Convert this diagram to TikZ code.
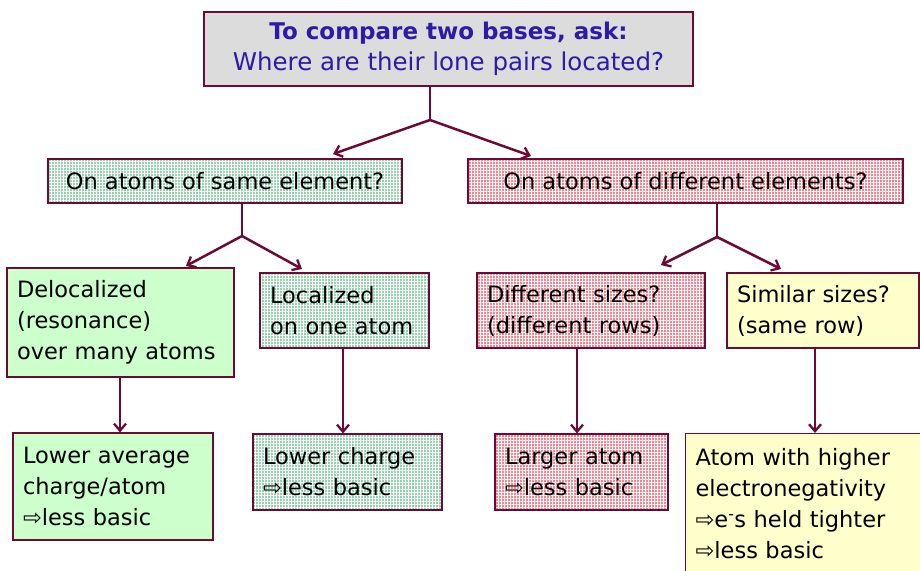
\documentclass[tikz,border=0pt]{standalone}
\usepackage{fontspec}
\setmainfont{DejaVu Sans}
\usetikzlibrary{arrows.meta,patterns.meta}
\definecolor{maroon}{HTML}{6C0A36}
\definecolor{qblue}{HTML}{2B1BA5}
\definecolor{boxgray}{HTML}{DCDCDC}
\definecolor{mint}{HTML}{CCFFCC}
\definecolor{cream}{HTML}{FFFFCC}
\definecolor{hgreenbg}{HTML}{96D2AE}
\definecolor{hpinkbg}{HTML}{F6848F}
\tikzset{
  every node/.style={font=\fontsize{22.5}{31}\selectfont},
  basebox/.style={draw=maroon, line width=1.2pt, inner xsep=12pt, inner ysep=0pt, align=left},
  graybox/.style={basebox, fill=boxgray, text=qblue, align=center},
  plaingreen/.style={basebox, fill=mint},
  plaincream/.style={basebox, fill=cream},
  gridover/.style={
     postaction={pattern={Lines[distance=3pt,line width=1pt,angle=0]},pattern color=white},
     postaction={pattern={Lines[distance=3pt,line width=1pt,angle=90]},pattern color=white},
     postaction={draw=maroon,line width=1.2pt}},
  hatchgreen/.style={basebox, fill=hgreenbg, gridover},
  hatchpink/.style={basebox, fill=hpinkbg, gridover},
  conn/.style={draw=maroon, line width=2.5pt},
  arr/.style={conn, -{Straight Barb[length=7pt,width=12pt,line width=2.3pt]}}
}
\begin{document}
\begin{tikzpicture}[x=1pt,y=-1pt]
\useasboundingbox[fill=white] (0,0) rectangle (920,570);

% top box
\node[graybox, minimum width=489pt, minimum height=74pt] (top) at (448.5,49)
  {\fontsize{23}{32}\selectfont\textbf{To compare two bases, ask:}\\\fontsize{24.5}{32}\selectfont Where are their lone pairs located?};

% second row
\node[hatchgreen, minimum width=354pt, minimum height=44pt, align=center] (same) at (225,181)
  {On atoms of same element?};
\node[hatchpink, minimum width=435pt, minimum height=44pt, align=center] (diff) at (685.5,181)
  {On atoms of different elements?};

% third row
\node[plaingreen, minimum width=227pt, minimum height=109pt, text width=207pt, inner xsep=10pt] (deloc) at (120.5,322.5)
  {Delocalized\\(resonance)\\over many atoms};
\node[hatchgreen, minimum width=169pt, minimum height=75pt, text width=149pt, inner xsep=10pt] (loc) at (344.5,310.5)
  {Localized\\on one atom};
\node[hatchpink, minimum width=228pt, minimum height=75pt, text width=208pt, inner xsep=10pt] (dsize) at (591,310.5)
  {Different sizes?\\(different rows)};
\node[plaincream, minimum width=192pt, minimum height=75pt, text width=172pt, inner xsep=10pt] (ssize) at (823,310.5)
  {Similar sizes?\\(same row)};

% fourth row
\node[plaingreen, minimum width=200pt, minimum height=107pt, text width=180pt, inner xsep=10pt] (lavg) at (113,486.5)
  {Lower average\\charge/atom\\⇨less basic};
\node[hatchgreen, minimum width=189pt, minimum height=76pt, text width=169pt, inner xsep=10pt] (lchg) at (347.5,472)
  {Lower charge\\⇨less basic};
\node[hatchpink, minimum width=173pt, minimum height=76pt, text width=153pt, inner xsep=10pt] (large) at (581.5,472)
  {Larger atom\\⇨less basic};
\node[plaincream, minimum width=236pt, minimum height=140pt, text width=216pt, inner xsep=10pt, anchor=north west] (eneg) at (685,433)
  {Atom with higher\\electronegativity\\⇨e\textsuperscript{-}s held tighter\\⇨less basic};

% junctions and arrow ends
\coordinate (j1) at (430,120);
\coordinate (t1) at (333,154);
\coordinate (t2) at (531,156);
\coordinate (j2) at (242,236);
\coordinate (t3) at (186,266);
\coordinate (t4) at (302,269);
\coordinate (j3) at (717,237);
\coordinate (t5) at (661,265);
\coordinate (t6) at (781,269);
\coordinate (v1) at (120,377);
\coordinate (v2) at (343,348);
\coordinate (v3) at (577,348);
\coordinate (v4) at (815,348);

\draw[conn] (j1 |- top.south) -- (j1);
\draw[arr] (j1) -- (t1);
\draw[arr] (j1) -- (t2);

\draw[conn] (j2 |- same.south) -- (j2);
\draw[arr] (j2) -- (t3);
\draw[arr] (j2) -- (t4);

\draw[conn] (j3 |- diff.south) -- (j3);
\draw[arr] (j3) -- (t5);
\draw[arr] (j3) -- (t6);

\draw[arr] (v1 |- deloc.south) -- (v1 |- lavg.north);
\draw[arr] (v2 |- loc.south) -- (v2 |- lchg.north);
\draw[arr] (v3 |- dsize.south) -- (v3 |- large.north);
\draw[arr] (v4 |- ssize.south) -- (v4 |- eneg.north);
\end{tikzpicture}
\end{document}
